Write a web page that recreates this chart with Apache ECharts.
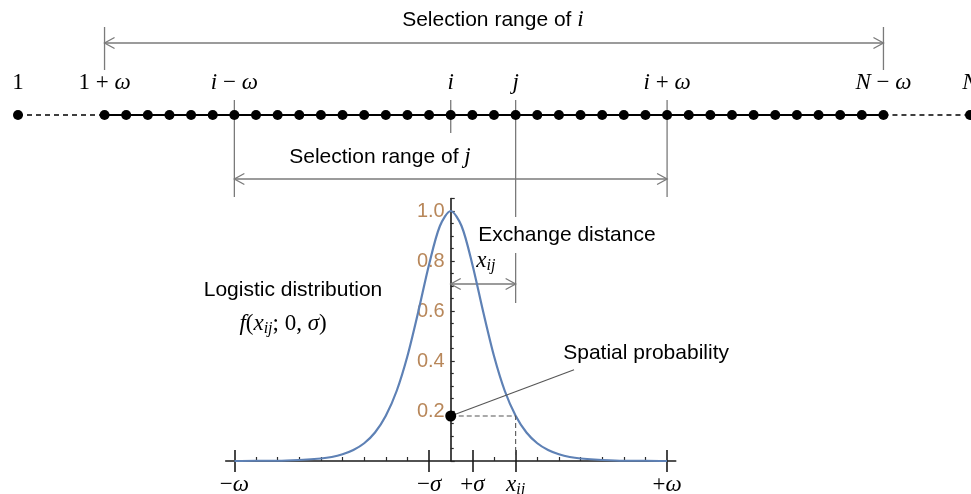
<!DOCTYPE html>
<html>
<head>
<meta charset="utf-8">
<title>Site exchange with logistic spatial probability</title>
<script src="https://cdn.jsdelivr.net/npm/echarts@6/dist/echarts.min.js"></script>
<style>
  html, body { margin: 0; padding: 0; background: #ffffff; }
  #chart { width: 971px; height: 494px; }
</style>
</head>
<body>
<div id="chart"></div>
<script>
// ---- Chain of sites (slot units along the chain; ω = 10 slots, σ = 1 slot) ----
const chainSites = [0, 1, 2, 3, 4, 5, 6, 7, 8, 9, 10, 11, 12, 13, 14, 15, 16, 17, 18,
                    19, 20, 21, 22, 23, 24, 25, 26, 27, 28, 29, 30, 31, 32, 33, 34, 35, 36];
const endSites = [-4, 40];                 // sites 1 and N, beyond the dashed gaps
const siteLabelSlots = [-4, 0, 6, 16, 19, 26, 36, 40];
const siteLabelTexts = ['1', '1 + ω', 'i − ω', 'i', 'j', 'i + ω', 'N − ω', 'N'];
const slotI = 16;
const slotJ = 19;
const omega = 10;

// ---- Logistic distribution f(x_ij; 0, σ), peak scaled to 1 ----
const curveX = [-10, -9, -8, -7, -6, -5.5, -5, -4.5, -4, -3.5, -3, -2.5, -2, -1.5, -1, -0.5, 0,
                0.5, 1, 1.5, 2, 2.5, 3, 3.5, 4, 4.5, 5, 5.5, 6, 7, 8, 9, 10];
const curveY = [0.000, 0.001, 0.001, 0.004, 0.010, 0.016, 0.027, 0.044, 0.071, 0.114, 0.181,
                0.280, 0.420, 0.597, 0.786, 0.940, 1.000,
                0.940, 0.786, 0.597, 0.420, 0.280, 0.181, 0.114, 0.071, 0.044, 0.027,
                0.016, 0.010, 0.004, 0.001, 0.001, 0.000];
const xTickValues = [-10, -1, 1, 3, 10];
const xTickLabels = ['−ω', '−σ', '+σ', 'x_ij', '+ω'];
const xMinorTicks = [-9, -8, -7, -6, -5, -4, -3, -2, 2, 4, 5, 6, 7, 8, 9];
const exchangeDistance = 3;                // x_ij = j − i
const spatialProbability = 0.18;           // f(x_ij) read at the marked point

// ---- Layout (pixel rows of the overlay frame) ----
const ROW_RANGE_I = 43, ROW_SITE_LABEL = 83, ROW_CHAIN = 115, ROW_RANGE_J = 179, ROW_XIJ = 284;
const UNIT = 952 / 44;                     // pixel width of one slot
const PX_I = 18 + (slotI + 4) * UNIT;      // pixel column of site i (x = 0 of the plot)
const PLOT_HALF = 10.4;                    // plot x-range ±10.4 slots
const PLOT_TOP = 461 - 1.05 * 250, PLOT_BOTTOM = 33;

const INK = '#000000';
const GUIDE = '#7a7a7a';
const SERIF = "'Liberation Serif', 'DejaVu Serif', serif";
const SANS = "'Liberation Sans', Arial, sans-serif";

const rich = {
  s:   { fontFamily: SANS,  fontSize: 21, color: INK, lineHeight: 26 },
  m:   { fontFamily: SERIF, fontStyle: 'italic', fontSize: 23, color: INK, lineHeight: 26 },
  r:   { fontFamily: SERIF, fontSize: 23, color: INK, lineHeight: 26 },
  sub: { fontFamily: SERIF, fontStyle: 'italic', fontSize: 16, color: INK, lineHeight: 16,
         verticalAlign: 'bottom' }
};

// Turn a math string into rich text: letters italic, digits/operators upright, "_xy" subscript
function mathRich(str) {
  let out = '';
  let i = 0;
  while (i < str.length) {
    const ch = str[i];
    if (ch === '_') {
      let j = i + 1, sub = '';
      while (j < str.length && /[a-z]/i.test(str[j])) { sub += str[j]; j++; }
      out += '{sub|' + sub + '}';
      i = j;
      continue;
    }
    const isLetter = /[A-Za-z\u03b1-\u03c9]/.test(ch);
    out += '{' + (isLetter ? 'm' : 'r') + '|' + ch + '}';
    i++;
  }
  return out;
}
// Plain prose with $...$ math segments
function proseRich(str) {
  return str.split('$').map((part, k) => {
    if (!part) return '';
    return k % 2 ? mathRich(part) : '{s|' + part + '}';
  }).join('');
}

// Free text placed in the overlay frame: [slot, row, text, white backdrop?]
const notes = [
  [17.95, 20,  proseRich('Selection range of $i$'), false],
  [12.73, 157, proseRich('Selection range of $j$'), false],
  [8.71,  290, proseRich('Logistic distribution'), false],
  [8.25,  324, mathRich('f(x_ij; 0, σ)'), false],
  [21.37, 235, proseRich('Exchange distance'), true],
  [17.62, 261, mathRich('x_ij'), false],
  [25.03, 353, proseRich('Spatial probability'), false]
];

// Vertical guides [slot, rowTop, rowBottom]
const guides = [
  [0, 27, 70], [36, 27, 70],
  [slotI - omega, 100, 197], [slotI + omega, 100, 197],
  [slotI, 100, 133],
  [slotJ, 100, 303]
];
// Double arrows [slotFrom, slotTo, row]
const arrows = [
  [0, 36, ROW_RANGE_I],
  [slotI - omega, slotI + omega, ROW_RANGE_J],
  [slotI, slotJ, ROW_XIJ]
];

const chart = echarts.init(document.getElementById('chart'), null, { renderer: 'canvas' });

const axisDark = { color: '#1a1a1a', width: 1.6 };
const tickDark = { color: '#2a2a2a', width: 1.2 };

const option = {
  backgroundColor: '#ffffff',
  animation: false,
  grid: [
    { left: 18, right: 1, top: 0, bottom: 0, outerBoundsMode: 'none' },
    { left: PX_I - PLOT_HALF * UNIT, right: 971 - (PX_I + PLOT_HALF * UNIT),
      top: PLOT_TOP, bottom: PLOT_BOTTOM, outerBoundsMode: 'none' },
    // frame whose left edge is x = 0 of the plot: carries the probability axis
    { left: PX_I, right: 1, top: PLOT_TOP, bottom: PLOT_BOTTOM, outerBoundsMode: 'none' }
  ],
  xAxis: [
    { gridIndex: 0, type: 'value', min: -4, max: 40, show: false },
    { gridIndex: 1, type: 'value', position: 'bottom', min: -PLOT_HALF, max: PLOT_HALF,
      axisLine: { onZero: false, lineStyle: axisDark },
      axisTick: { show: true, inside: true, length: 4, customValues: xMinorTicks, lineStyle: tickDark },
      axisLabel: { show: false }, splitLine: { show: false } },
    { gridIndex: 1, type: 'value', position: 'bottom', offset: 0, min: -PLOT_HALF, max: PLOT_HALF,
      axisLine: { show: false, onZero: false },
      axisTick: { show: true, inside: true, length: 11, customValues: xTickValues, lineStyle: axisDark },
      axisLabel: { show: false }, splitLine: { show: false } },
    { gridIndex: 1, type: 'value', position: 'bottom', offset: 0, min: -PLOT_HALF, max: PLOT_HALF,
      axisLine: { show: false, onZero: false },
      axisTick: { show: true, inside: false, length: 11, customValues: xTickValues, lineStyle: axisDark },
      axisLabel: { show: true, margin: 11, customValues: xTickValues, rich: rich,
                   formatter: v => mathRich(xTickLabels[xTickValues.indexOf(v)] || '') },
      splitLine: { show: false } },
    { gridIndex: 2, type: 'value', min: 0, max: 1, show: false }
  ],
  yAxis: [
    { gridIndex: 0, type: 'value', min: 0, max: 494, inverse: true, show: false },
    { gridIndex: 1, type: 'value', min: 0, max: 1.05, show: false },
    { gridIndex: 2, type: 'value', position: 'left', min: 0, max: 1.05, interval: 0.2,
      axisLine: { show: true, onZero: false, lineStyle: axisDark },
      axisTick: { show: true, inside: true, length: 4, lineStyle: tickDark },
      minorTick: { show: true, splitNumber: 4, length: 3, lineStyle: tickDark },
      axisLabel: { margin: 6, color: '#b8875a', fontFamily: SANS, fontSize: 20,
                   formatter: v => (v === 0 ? '' : v.toFixed(1)) },
      splitLine: { show: false } }
  ],
  series: [
    // Solid chain between 1+ω and N−ω
    { type: 'line', xAxisIndex: 0, yAxisIndex: 0, symbol: 'none', silent: true,
      data: [[chainSites[0], ROW_CHAIN], [chainSites[chainSites.length - 1], ROW_CHAIN]],
      lineStyle: { color: INK, width: 1.8 } },
    // Dashed gaps towards sites 1 and N
    { type: 'line', xAxisIndex: 0, yAxisIndex: 0, symbol: 'none', silent: true,
      data: [[endSites[0], ROW_CHAIN], [chainSites[0], ROW_CHAIN]],
      lineStyle: { color: INK, width: 1.4, type: [5, 4] } },
    { type: 'line', xAxisIndex: 0, yAxisIndex: 0, symbol: 'none', silent: true,
      data: [[chainSites[chainSites.length - 1], ROW_CHAIN], [endSites[1], ROW_CHAIN]],
      lineStyle: { color: INK, width: 1.4, type: [5, 4] } },
    // Sites
    { type: 'scatter', xAxisIndex: 0, yAxisIndex: 0, symbol: 'circle', symbolSize: 10, z: 4,
      itemStyle: { color: INK, opacity: 1 },
      data: endSites.concat(chainSites).map(s => [s, ROW_CHAIN]) },
    // Site labels
    { type: 'scatter', xAxisIndex: 0, yAxisIndex: 0, symbolSize: 0, z: 4, silent: true,
      itemStyle: { opacity: 1 },
      data: siteLabelSlots.map(s => [s, ROW_SITE_LABEL]),
      label: { show: true, position: 'inside', rich: rich,
               formatter: p => mathRich(siteLabelTexts[p.dataIndex]) } },
    // Vertical guides
    { type: 'custom', xAxisIndex: 0, yAxisIndex: 0, silent: true, z: 3,
      data: guides,
      renderItem: (params, api) => {
        const a = api.coord([api.value(0), api.value(1)]);
        const b = api.coord([api.value(0), api.value(2)]);
        return { type: 'line', shape: { x1: a[0], y1: a[1], x2: b[0], y2: b[1] },
                 style: { stroke: GUIDE, lineWidth: 1.3 } };
      } },
    // Double-headed range arrows with open heads
    { type: 'custom', xAxisIndex: 0, yAxisIndex: 0, silent: true, z: 3,
      data: arrows,
      renderItem: (params, api) => {
        const a = api.coord([api.value(0), api.value(2)]);
        const b = api.coord([api.value(1), api.value(2)]);
        const L = 10, W = 5.5;
        const st = { stroke: GUIDE, lineWidth: 1.3, fill: null };
        return { type: 'group', children: [
          { type: 'line', shape: { x1: a[0], y1: a[1], x2: b[0], y2: b[1] }, style: st },
          { type: 'polyline', shape: { points: [[a[0] + L, a[1] - W], [a[0], a[1]], [a[0] + L, a[1] + W]] }, style: st },
          { type: 'polyline', shape: { points: [[b[0] - L, b[1] - W], [b[0], b[1]], [b[0] - L, b[1] + W]] }, style: st }
        ] };
      } },
    // Text notes ("Exchange distance" gets a white backdrop so the j guide stops around it)
    { type: 'scatter', xAxisIndex: 0, yAxisIndex: 0, symbolSize: 0, z: 6, silent: true,
      itemStyle: { opacity: 1 },
      data: notes.map(n => ({
        value: [n[0], n[1]],
        label: n[3] ? { backgroundColor: '#ffffff', padding: [5, 4, 5, 4] } : {}
      })),
      label: { show: true, position: 'inside', rich: rich,
               formatter: p => notes[p.dataIndex][2] } },
    // Logistic curve
    { type: 'line', xAxisIndex: 1, yAxisIndex: 1, symbol: 'none', smooth: 0.3, z: 3,
      data: curveX.map((x, k) => [x, curveY[k]]),
      lineStyle: { color: '#5e81b5', width: 2.2 } },
    // Dashed read-off of f(x_ij)
    { type: 'line', xAxisIndex: 1, yAxisIndex: 1, symbol: 'none', silent: true, z: 3,
      data: [[0, spatialProbability], [exchangeDistance, spatialProbability], [exchangeDistance, 0]],
      lineStyle: { color: '#555555', width: 1.1, type: [5, 3] } },
    // Leader to the "Spatial probability" note
    { type: 'line', xAxisIndex: 1, yAxisIndex: 1, symbol: 'none', silent: true, z: 3,
      data: [[0, spatialProbability], [5.7, 0.365]],
      lineStyle: { color: '#555555', width: 1.1 } },
    // Marked probability point
    { type: 'scatter', xAxisIndex: 1, yAxisIndex: 1, symbol: 'circle', symbolSize: 11, z: 5,
      itemStyle: { color: INK, opacity: 1 },
      data: [[0, spatialProbability]] }
  ]
};

chart.setOption(option);
</script>
</body>
</html>
